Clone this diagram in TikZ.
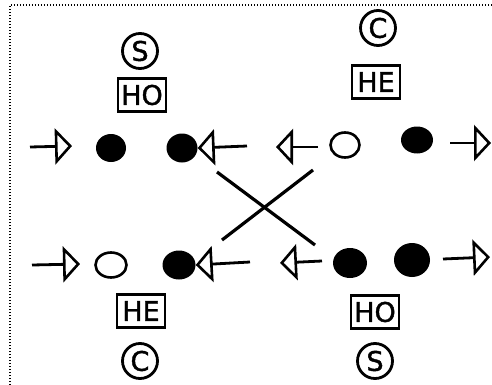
\documentclass[tikz,border=0pt]{standalone}
\usepackage{fontspec}
\newfontfamily\hand[FakeBold=1.5]{DejaVu Sans}
\usetikzlibrary{arrows.meta,shapes.geometric}
\tikzset{
  fdot/.style={ellipse,fill=black,inner sep=0pt},
  odot/.style={ellipse,draw=black,line width=2.6pt,inner sep=0pt},
  arr/.style={line width=2.8pt,-{Triangle[open,length=17pt,width=36pt,line width=2.6pt]}},
  xline/.style={line width=3.2pt},
  lblc/.style={circle,draw=black,line width=2.8pt,minimum size=35pt,inner sep=0pt,font=\hand\fontsize{27}{27}\selectfont},
  lblb/.style={rectangle,draw=black,line width=2.8pt,minimum width=48pt,minimum height=33pt,inner sep=2pt,font=\hand\fontsize{27}{27}\selectfont},
  frame/.style={line width=1.4pt,dash pattern=on 1.2pt off 1.8pt}
}
\begin{document}
\begin{tikzpicture}[x=1pt,y=-1pt]
\useasboundingbox (0,0) rectangle (492,385);
\draw[frame] (10,385) -- (10,5) -- (492,5);
% labels top
\node[lblc] (sT) at (140,51) {S};
\node[lblb] (hoT) at (142,95) {HO};
\node[lblc] (cT) at (378,28) {C};
\node[lblb] (heT) at (376,82) {HE};
% labels bottom
\node[lblb] (heB) at (141,311) {HE};
\node[lblc] (cB) at (140,361) {C};
\node[lblb] (hoB) at (375,312) {HO};
\node[lblc] (sB) at (375,361) {S};
% top row dots
\node[fdot,minimum width=30pt,minimum height=28pt] (t1) at (111,148) {};
\node[fdot,minimum width=31pt,minimum height=29pt] (t2) at (182,148) {};
\node[odot,minimum width=29pt,minimum height=25pt] (t3) at (345,145) {};
\node[fdot,minimum width=32pt,minimum height=27pt] (t4) at (417,140) {};
% bottom row dots
\node[odot,minimum width=31pt,minimum height=25pt] (b1) at (111,265) {};
\node[fdot,minimum width=33pt,minimum height=29pt] (b2) at (179,265) {};
\node[fdot,minimum width=34pt,minimum height=30pt] (b3) at (350,263) {};
\node[fdot,minimum width=36pt,minimum height=34pt] (b4) at (412,260) {};
% arrow coordinates top
\coordinate (ta1s) at (30,147);
\coordinate (ta1e) at (72,146);
\coordinate (ta2s) at (247,146);
\coordinate (ta3s) at (318,147);
\coordinate (ta3e) at (276,147);
\coordinate (ta4s) at (450,143);
\coordinate (ta4e) at (491,143);
% arrow coordinates bottom
\coordinate (ba1s) at (32,265);
\coordinate (ba1e) at (80,264);
\coordinate (ba2s) at (250,262);
\coordinate (ba3s) at (322,261);
\coordinate (ba3e) at (280,263);
\coordinate (ba4s) at (443,259);
\coordinate (ba4e) at (490,257);
% arrows
\draw[arr] (ta1s) -- (ta1e);
\draw[arr] (ta2s) -- (t2.east);
\draw[arr] (ta3s) -- (ta3e);
\draw[arr] (ta4s) -- (ta4e);
\draw[arr] (ba1s) -- (ba1e);
\draw[arr] (ba2s) -- (b2.east);
\draw[arr] (ba3s) -- (ba3e);
\draw[arr] (ba4s) -- (ba4e);
% cross
\coordinate (x1s) at (217,172);
\coordinate (x1e) at (315,245);
\coordinate (x2s) at (313,170);
\coordinate (x2e) at (222,240);
\draw[xline] (x1s) -- (x1e);
\draw[xline] (x2s) -- (x2e);
\end{tikzpicture}
\end{document}
